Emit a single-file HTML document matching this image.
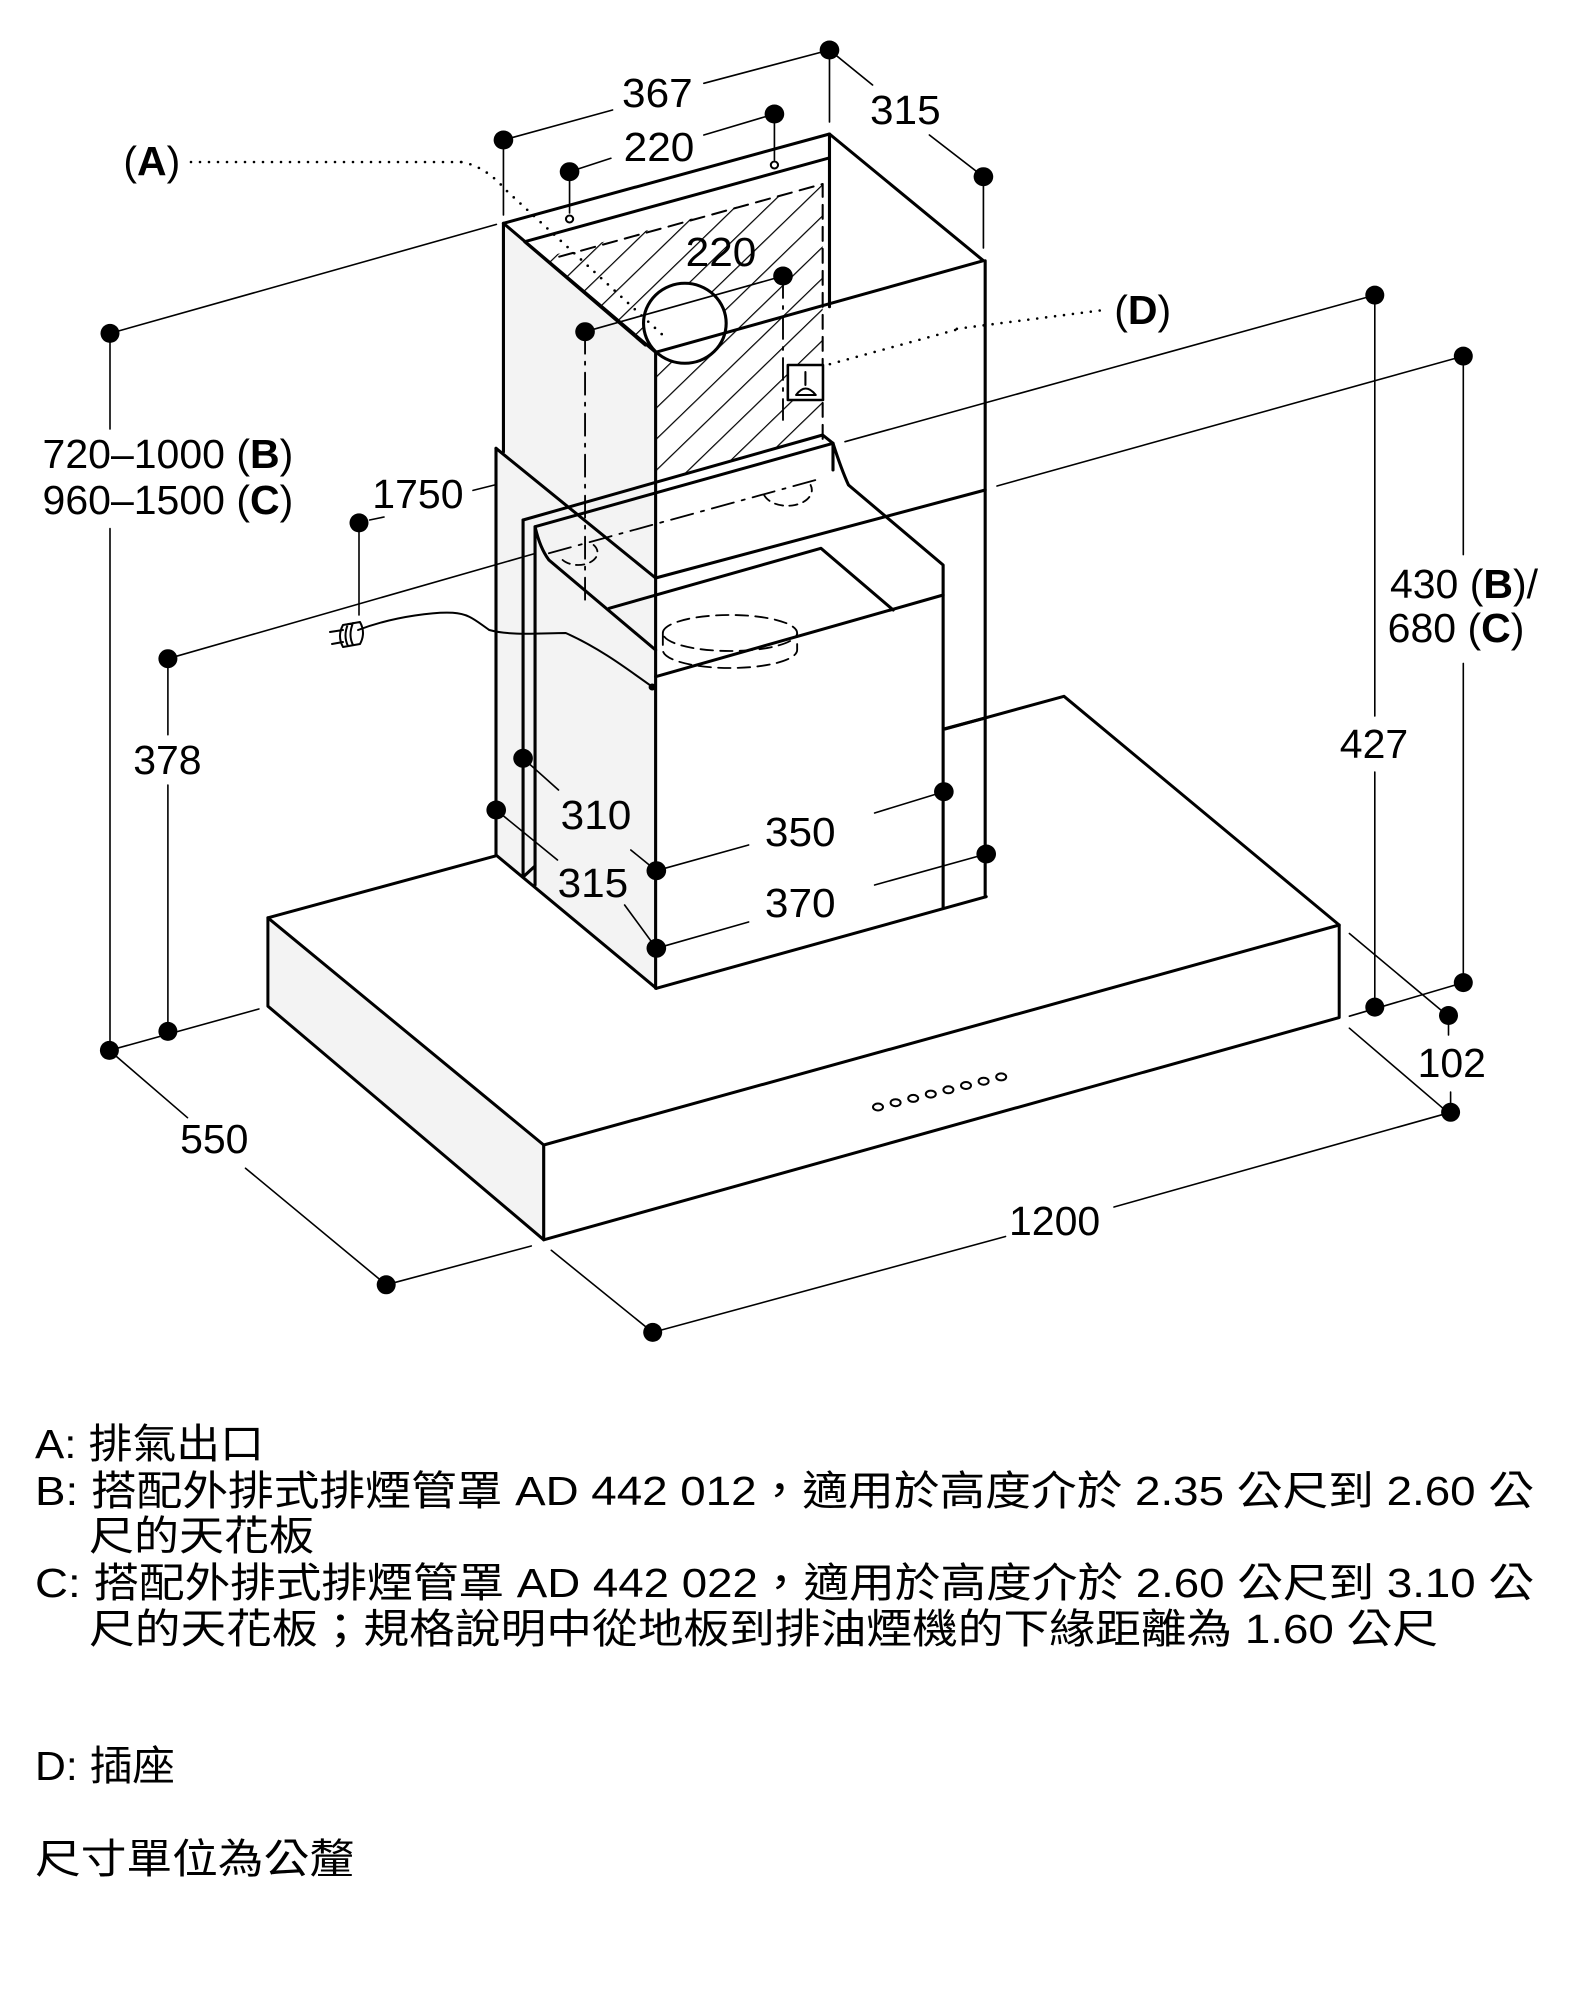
<!DOCTYPE html>
<html><head><meta charset="utf-8"><style>html,body{margin:0;padding:0;background:#fff}svg{display:block}</style></head>
<body>
<svg width="1582" height="2000" viewBox="0 0 1582 2000" xmlns="http://www.w3.org/2000/svg">
<defs>
<pattern id="h" patternUnits="userSpaceOnUse" width="22" height="22" patternTransform="rotate(45)">
<line x1="0" y1="0" x2="0" y2="22" stroke="#000" stroke-width="2.4"/>
</pattern>
<clipPath id="hc"><polygon points="540,258 811.7,184 811.7,435 650,481.7 650,352.3"/></clipPath>
</defs>
<g fill="none" stroke="#000" stroke-linejoin="round" stroke-linecap="round">
<!-- hood -->
<polygon points="267.9,917.8 543.75,1145 543.75,1239.8 267.9,1006.2" fill="#f3f3f3" stroke-width="3"/>
<polygon points="543.75,1145 1339.2,925 1339.2,1017.6 543.75,1239.8" fill="#fff" stroke-width="3"/>
<path d="M267.9,917.8 L495.5,855.9 M945,729 L1064,696.3 L1339.2,925" stroke-width="3"/>
<g fill="none" stroke-width="2">
<ellipse cx="878" cy="1107" rx="5" ry="3.5"/><ellipse cx="895.6" cy="1102.7" rx="5" ry="3.5"/>
<ellipse cx="913.2" cy="1098.4" rx="5" ry="3.5"/><ellipse cx="930.8" cy="1094.1" rx="5" ry="3.5"/>
<ellipse cx="948.4" cy="1089.8" rx="5" ry="3.5"/><ellipse cx="966" cy="1085.5" rx="5" ry="3.5"/>
<ellipse cx="983.6" cy="1081.2" rx="5" ry="3.5"/><ellipse cx="1001.2" cy="1076.9" rx="5" ry="3.5"/>
</g>
</g>

<!-- chimney group (x-corrected) -->
<g transform="matrix(1.0331 0 0 1 -15.9 0)" fill="none" stroke="#000" stroke-linejoin="round" stroke-linecap="round">
<polygon points="495.5,448.3 650,578 650,988.3 495.5,855" fill="#f3f3f3" stroke="none"/>
<path d="M495.5,448.3 L495.5,855 L650.7,988.3" stroke-width="3"/>
<path d="M521.7,520 L521.7,877 M533.3,526.7 L533.3,885 M521.7,877 L533.3,866" stroke-width="3"/>
<polygon points="502.7,223.3 650,352.3 650,578 502.7,452" fill="#f3f3f3" stroke="none"/>
<rect x="500" y="150" width="330" height="350" fill="url(#h)" stroke="none" clip-path="url(#hc)"/>
<path d="M556.7,256.7 L811.7,184 L811.7,440" stroke-width="2" stroke-dasharray="14,8"/>
<circle cx="678.3" cy="323.3" r="40" fill="#fff" stroke-width="3"/>
<path d="M502.7,223.3 L818.3,134 L967.3,260.7 L650,352.3 Z" stroke-width="3"/>
<path d="M523.3,241.7 L816.7,158.3 M523.3,241.7 L640,345" stroke-width="3"/>
<path d="M818.3,134 L818.3,306.7" stroke-width="3"/>
<path d="M502.7,223.3 L502.7,452 M650,352.3 L650,988.3 M969,260.7 L969,897" stroke-width="3"/>
<path d="M495.5,448.3 L650,578 L969,490" stroke-width="3"/>
<path d="M521.7,520 L811.7,435 L821.7,443.3 Q830,470 836.7,485 L928.3,565 L928.3,908" stroke-width="3"/>
<path d="M533.3,526.7 L821.7,443.3 M533.3,526.7 Q538,548 546.7,560 L650,650" stroke-width="3"/>
<path d="M605,608.3 L810,548.3 L880,610 M650,676.7 L928.3,595" stroke-width="3"/>
<path d="M650.7,988.3 L970,896.7 M929,729 L969,718" stroke-width="3"/>
<path d="M821.7,443.3 L821.7,470" stroke-width="3"/>
<path d="M657,633 A65,18 0 1 1 787,633 A65,18 0 1 1 657,633 M657,633 L657,650 A65,18 0 0 0 787,650 L787,633" stroke-width="1.8" stroke-dasharray="12,7"/>
<path d="M546.7,553.3 L805,480" stroke-width="1.8" stroke-dasharray="22,8,3,8"/>
<path d="M773.3,276 L773.3,420 M581.7,331.7 L581.7,600" stroke-width="1.8" stroke-dasharray="22,8,3,8"/>
<path d="M560,560 A18,12 0 0 0 590,545 M755,495 A18,12 0 0 0 800,485" stroke-width="1.8" stroke-dasharray="8,6"/>
<path d="M362,630 C400,615 440,612 453.6,612.8 C470,614 475,620 489,630 C510,636 540,633 563,633 C600,650 630,675 646.7,686.7" stroke-width="2"/>
<circle cx="646.7" cy="687" r="3" fill="#000"/>
<rect x="778" y="365" width="34" height="35" fill="#fff" stroke-width="2.5"/>
<path d="M786,395 Q795,382 805,395 M795,372 L795,385 M786,395 L805,395" stroke-width="2"/>
<g stroke-width="1.6">
<path d="M502.7,140 L502.7,215 M818.3,50 L818.3,122 M967.3,176.7 L967.3,248"/>
<path d="M502.7,140 L608.3,110 M696.7,83.3 L818.3,50"/>
<path d="M818.3,50 L860,85 M915,135 L967.3,176.7"/>
<path d="M566.7,171.7 L606.7,158.3 M696.7,135 L765,114"/>
<path d="M566.7,171.7 L566.7,213 M765,114 L765,160"/>
<path d="M581.7,331.7 L773.3,276"/>
<path d="M521.7,758.3 L556,790 M626,850 L650.7,870.7 L740,845 M862,813 L929,791.7"/>
<path d="M495.7,810 L555,860 M620,905 L650.7,948.3 L740,922 M862,885 L970,854"/>
</g>
<path d="M462,162 Q485,166 505,190 L660,338" stroke-width="2.6" stroke-dasharray="0,9"/>
<path d="M940,330 L812,366" stroke-width="2.6" stroke-dasharray="0,9"/>
<g fill="#000" stroke="none">
<circle cx="502.7" cy="140" r="9.5"/><circle cx="818.3" cy="50" r="9.5"/><circle cx="967.3" cy="176.7" r="9.5"/>
<circle cx="566.7" cy="171.7" r="9.5"/><circle cx="765" cy="114" r="9.5"/>
<circle cx="773.3" cy="276" r="9.5"/><circle cx="581.7" cy="331.7" r="9.5"/>
<circle cx="521.7" cy="758.3" r="9.5"/><circle cx="495.7" cy="810" r="9.5"/>
<circle cx="650.7" cy="870.7" r="9.5"/><circle cx="650.7" cy="948.3" r="9.5"/>
<circle cx="929" cy="791.7" r="9.5"/><circle cx="970" cy="854" r="9.5"/>
</g>
<circle cx="566.7" cy="219" r="3.5" fill="#fff" stroke-width="2"/>
<circle cx="765" cy="165" r="3.5" fill="#fff" stroke-width="2"/>
<g font-family="Liberation Sans, Arial, sans-serif" font-size="41" fill="#000" stroke="none" text-anchor="middle">
<text x="651.7" y="107">367</text>
<text x="653.3" y="161">220</text>
<text x="891.7" y="124">315</text>
<text x="713.3" y="266">220</text>
<text x="592.3" y="829">310</text>
<text x="589.3" y="897">315</text>
<text x="790" y="846">350</text>
<text x="790" y="917">370</text>
</g>
</g>

<g fill="none" stroke="#000" stroke-linejoin="round" stroke-linecap="round">
<path d="M343,625 L360,622 Q366,633 360,644 L343,647 Q337,636 343,625 Z M348,624 Q343,636 348,646 M353,623 Q348,635 353,645 M343,630 L330,632 M343,642 L332,644" stroke-width="2"/>
<g stroke-width="1.6">
<path d="M110,333.4 L496.4,224.4 M110,333.4 L110,429 M110,528.6 L110,1050.4"/>
<path d="M167.9,658.7 L535,553.5 M167.9,658.7 L167.9,734.7 M167.9,785 L167.9,1031.4"/>
<path d="M109.4,1050.4 L258.9,1009"/>
<path d="M109.4,1050.4 L187.5,1117.7 M245.5,1168.2 L386.2,1284.8 L531.25,1246"/>
<path d="M551.3,1250.3 L652.7,1332.4 L1005.5,1236.5 M1114,1207 L1450.6,1112.3"/>
<path d="M1349.4,933.5 L1441.6,1010.6 M1349.4,1028.2 L1443.6,1108.8 M1448.5,1015.5 L1448.5,1035 M1450.6,1092 L1450.6,1112.3"/>
<path d="M1374.8,295.1 L845,441.7 M1463.3,356.1 L997,486"/>
<path d="M1374.8,295.1 L1374.8,716 M1374.8,772 L1374.8,1007.1"/>
<path d="M1463.3,356.1 L1463.3,554.6 M1463.3,663.4 L1463.3,982.6 L1349.4,1016.2"/>
<path d="M359,522.9 L359,615 M369.6,520 L384,517 M473,490.4 L496,484.6"/>
</g>
<path d="M191,162 L462,162" stroke-width="2.6" stroke-dasharray="0,9"/>
<path d="M1099.7,310.5 L955,329" stroke-width="2.6" stroke-dasharray="0,9"/>
</g>
<g fill="#000">
<circle cx="110" cy="333.4" r="9.5"/><circle cx="167.9" cy="658.7" r="9.5"/><circle cx="359" cy="522.9" r="9.5"/>
<circle cx="109.4" cy="1050.4" r="9.5"/><circle cx="167.9" cy="1031.4" r="9.5"/>
<circle cx="386.2" cy="1284.8" r="9.5"/><circle cx="652.7" cy="1332.4" r="9.5"/>
<circle cx="1450.6" cy="1112.3" r="9.5"/><circle cx="1448.5" cy="1015.5" r="9.5"/>
<circle cx="1374.8" cy="295.1" r="9.5"/><circle cx="1463.3" cy="356.1" r="9.5"/>
<circle cx="1374.8" cy="1007.1" r="9.5"/><circle cx="1463.3" cy="982.6" r="9.5"/>
</g>
<g font-family="Liberation Sans, Arial, sans-serif" font-size="41" fill="#000" text-anchor="middle">
<text x="417.9" y="508">1750</text>
<text x="167.9" y="468">720–1000 (<tspan font-weight="bold">B</tspan>)</text>
<text x="167.9" y="514">960–1500 (<tspan font-weight="bold">C</tspan>)</text>
<text x="167.4" y="774">378</text>
<text x="214.3" y="1153">550</text>
<text x="1054.6" y="1235">1200</text>
<text x="1451.8" y="1077">102</text>
<text x="1374" y="758">427</text>
<text x="1464" y="598">430 (<tspan font-weight="bold">B</tspan>)/</text>
<text x="1456" y="642">680 (<tspan font-weight="bold">C</tspan>)</text>
<text x="151.8" y="175">(<tspan font-weight="bold">A</tspan>)</text>
<text x="1142.7" y="324">(<tspan font-weight="bold">D</tspan>)</text>
</g>
<g font-family="Liberation Sans, 'Noto Sans CJK TC', sans-serif" font-size="41" fill="#000">
<text x="35" y="1458" textLength="229" lengthAdjust="spacingAndGlyphs">A: 排氣出口</text>
<text x="35" y="1505" textLength="1499" lengthAdjust="spacingAndGlyphs">B: 搭配外排式排煙管罩 AD 442 012，適用於高度介於 2.35 公尺到 2.60 公</text>
<text x="89" y="1550" textLength="225" lengthAdjust="spacingAndGlyphs">尺的天花板</text>
<text x="35" y="1597" textLength="1499" lengthAdjust="spacingAndGlyphs">C: 搭配外排式排煙管罩 AD 442 022，適用於高度介於 2.60 公尺到 3.10 公</text>
<text x="89" y="1643" textLength="1349" lengthAdjust="spacingAndGlyphs">尺的天花板；規格說明中從地板到排油煙機的下緣距離為 1.60 公尺</text>
<text x="35" y="1780" textLength="140" lengthAdjust="spacingAndGlyphs">D: 插座</text>
<text x="35" y="1873" textLength="320" lengthAdjust="spacingAndGlyphs">尺寸單位為公釐</text>
</g>
</svg>
</body></html>
